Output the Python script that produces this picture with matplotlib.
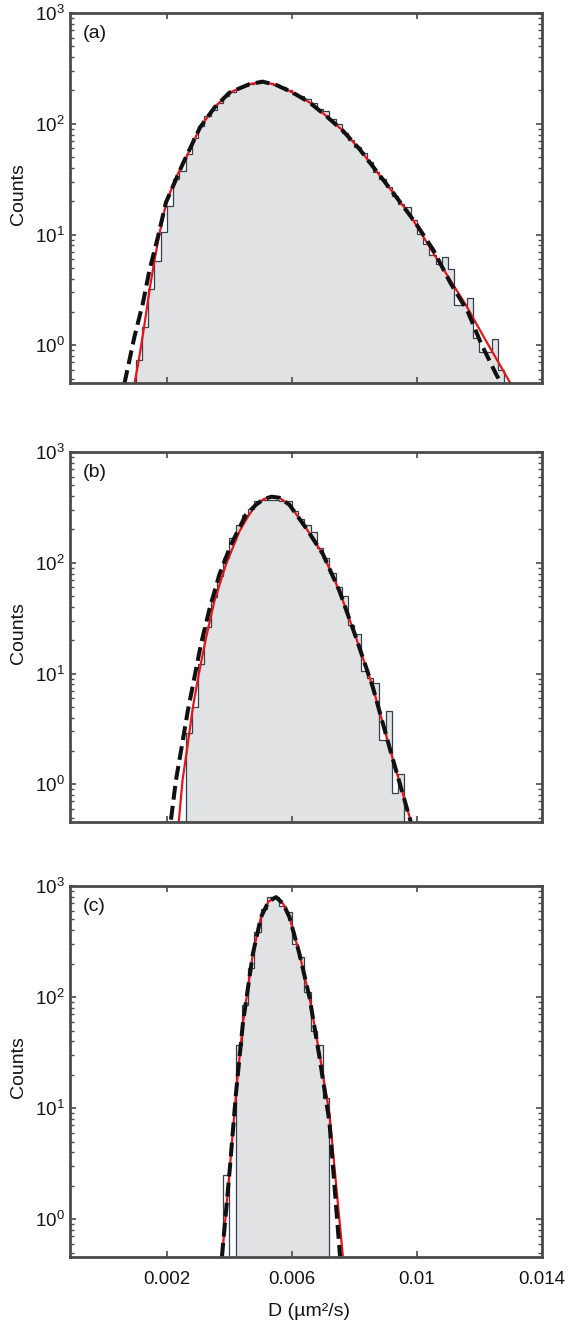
import numpy as np
import matplotlib
matplotlib.use("Agg")
import matplotlib.pyplot as plt
from matplotlib.ticker import LogLocator, FixedLocator, NullFormatter

plt.rcParams['font.family'] = ['Liberation Sans', 'DejaVu Sans']
plt.rcParams['mathtext.default'] = 'regular'
plt.rcParams['lines.scale_dashes'] = False

# ---------------- data ----------------
bin_width = 0.0002

a_start = 0.0010
a_counts = [0.73, 1.46, 3.2, 5.8, 10.5, 18.2, 31.6, 37.8, 53.3, 74, 95.5, 117, 132, 155,
            178, 195, 209, 219, 229, 234, 237, 232, 224, 214, 200, 186, 178, 166, 155,
            135, 130, 110, 100, 83, 71, 62, 55, 45, 37, 32, 27, 22.4, 19, 17.6, 13.4,
            10.1, 8.3, 6.5, 5.4, 6.3, 4.9, 2.3, 2.3, 2.7, 1.16, 0.87, 0.87, 1.15, 0.6]

b_start = 0.0026
b_counts = [2.9, 5.0, 12.3, 26.3, 49, 76, 110, 167, 219, 269, 309, 363, 372, 371, 371,
            358, 358, 295, 251, 221, 190, 135, 111, 81, 60, 50, 27.5, 22.6, 10.5, 9.1,
            8.3, 2.5, 4.6, 0.84, 1.25]

c_start = 0.0038
c_counts = [2.5, 0, 37.3, 85.5, 184, 384, 622, 793, 794, 661, 581, 302, 229, 111, 49,
            37.3, 12.4]

# fitted curves
red_a_D = [0.00096, 0.0011, 0.00127, 0.00144, 0.0016, 0.00176, 0.00197, 0.00224, 0.00267,
           0.00306, 0.00352, 0.0040, 0.00464, 0.00506, 0.0055, 0.00603, 0.00656, 0.00709,
           0.00763, 0.00816, 0.00869, 0.00923, 0.00976, 0.01051, 0.01157, 0.01216, 0.0130]
red_a_c = [0.45, 0.73, 1.46, 3.1, 5.8, 10.1, 18.9, 30.6, 53.3, 92.7, 140, 191, 228, 239,
           224, 191, 156, 118, 86.5, 59.2, 37.8, 24, 15.3, 6.9, 2.3, 1.16, 0.45]
blk_a_D = [0.00064, 0.00096, 0.00123, 0.00144, 0.00171, 0.00197, 0.0025, 0.00306, 0.00352,
           0.0040, 0.00464, 0.00506, 0.0055, 0.00603, 0.00656, 0.00709, 0.00763, 0.00816,
           0.00869, 0.00923, 0.00994, 0.01053, 0.01106, 0.01163, 0.01205, 0.01253, 0.0127]
blk_a_c = [0.45, 1.19, 2.39, 4.74, 9.46, 19.5, 43, 92.7, 140, 191, 228, 240, 224, 191, 156,
           118, 86.5, 59.2, 37.8, 24, 12.9, 7.2, 3.7, 2.0, 1.04, 0.55, 0.45]

red_b_D = [0.00238, 0.0025, 0.00267, 0.00283, 0.00302, 0.00325, 0.00352, 0.00389, 0.00432,
           0.0046, 0.00485, 0.0051, 0.00535, 0.0056, 0.00592, 0.00645, 0.00699, 0.00752,
           0.00805, 0.00859, 0.00912, 0.00981]
red_b_c = [0.457, 1.09, 2.32, 4.95, 9.9, 20.9, 45.2, 96.6, 192, 263, 334, 376, 397, 386, 334,
           206, 120, 55.6, 21.1, 7.5, 2.16, 0.457]
blk_b_D = [0.00213, 0.00229, 0.00249, 0.00267, 0.00288, 0.00309, 0.00336, 0.00368, 0.00405,
           0.00453, 0.00485, 0.0051, 0.00535, 0.0056, 0.00592, 0.00645, 0.00699, 0.00752,
           0.00805, 0.00859, 0.00912, 0.0098]
blk_b_c = [0.48, 1.09, 2.32, 4.63, 9.2, 18.4, 38, 78.5, 146, 272, 334, 376, 395, 386, 334,
           206, 120, 55.6, 21.1, 7.5, 2.16, 0.46]

red_c_D = [0.003765, 0.0040, 0.00421, 0.00443, 0.00475, 0.00501, 0.00525, 0.00549, 0.00572,
           0.00592, 0.00624, 0.00656, 0.00688, 0.0072, 0.00763]
red_c_c = [0.46, 2.59, 13.6, 57.7, 245, 525, 724, 794, 692, 525, 245, 100, 30.9, 8.95, 0.46]
blk_c_D = [0.00376, 0.0040, 0.00421, 0.00443, 0.00475, 0.00501, 0.00525, 0.00549, 0.00572,
           0.00592, 0.00624, 0.00656, 0.00688, 0.0072, 0.00754]
blk_c_c = [0.46, 2.59, 13.6, 57.7, 245, 525, 724, 794, 692, 525, 245, 100, 29, 7.5, 0.46]

panel_labels = ['(a)', '(b)', '(c)']
x_ticks = [0.002, 0.006, 0.01, 0.014]
x_ticklabels = ['0.002', '0.006', '0.01', '0.014']
y_ticks = [1, 10, 100, 1000]
y_ticklabels = ['$10^{0}$', '$10^{1}$', '$10^{2}$', '$10^{3}$']
xlabel = 'D (\u00b5m\u00b2/s)'
ylabel = 'Counts'

# ---------------- style ----------------
W, H = 585, 1324
fig = plt.figure(figsize=(W / 100, H / 100), dpi=100)

left, width = 70 / W, 472 / W
panel_px = [(13, 383), (452, 822), (886, 1257)]
ylim = (10 ** -0.34, 1000)
xlim = (-0.0011, 0.014)

fill_col = '#e1e2e4'
edge_col = '#34404f'
red_col = '#e3161d'
spine_col = '#4a4a4a'
txt_col = '#151515'
fs_tick = 13.5
fs_lab = 14

panels = [
    (a_start, a_counts, red_a_D, red_a_c, blk_a_D, blk_a_c),
    (b_start, b_counts, red_b_D, red_b_c, blk_b_D, blk_b_c),
    (c_start, c_counts, red_c_D, red_c_c, blk_c_D, blk_c_c),
]

floor = 1e-3
for i, ((top, bot), (start, counts, rD, rc, kD, kc)) in enumerate(zip(panel_px, panels)):
    ax = fig.add_axes([left, 1 - bot / H, width, (bot - top) / H])
    vals = np.asarray(counts, dtype=float)
    edges = start + bin_width * np.arange(len(vals) + 1)

    # contiguous non-empty run around the maximum gets the grey fill
    imax = int(np.argmax(vals))
    i0 = imax
    while i0 > 0 and vals[i0 - 1] > 0:
        i0 -= 1
    i1 = imax
    while i1 < len(vals) - 1 and vals[i1 + 1] > 0:
        i1 += 1
    ax.stairs(vals[i0:i1 + 1], edges[i0:i1 + 2], baseline=floor, fill=True,
              color=fill_col, lw=0, zorder=1)
    ax.stairs(np.where(vals > 0, vals, floor), edges, baseline=floor,
              color=edge_col, lw=0.9, zorder=2)

    ax.plot(rD, rc, color=red_col, lw=1.6, zorder=3, solid_capstyle='butt')
    ax.plot(kD, kc, color='#111111', lw=2.9, dashes=(10, 4.5), zorder=4,
            dash_capstyle='butt')

    ax.set_yscale('log')
    ax.set_ylim(*ylim)
    ax.set_xlim(*xlim)
    ax.yaxis.set_major_locator(FixedLocator(y_ticks))
    ax.set_yticklabels(y_ticklabels)
    ax.yaxis.set_minor_locator(LogLocator(base=10, subs=np.arange(2, 10)))
    ax.yaxis.set_minor_formatter(NullFormatter())
    ax.set_xticks(x_ticks)
    if i == 2:
        ax.set_xticklabels(x_ticklabels)
    else:
        ax.set_xticklabels([])

    for s in ax.spines.values():
        s.set_linewidth(2.0)
        s.set_color(spine_col)
        s.set_zorder(6)
    ax.tick_params(which='both', direction='in', top=True, right=True,
                   color=spine_col, labelsize=fs_tick, labelcolor=txt_col)
    ax.tick_params(which='major', length=4.5, width=1.2)
    ax.tick_params(which='minor', length=2.6, width=1.0)
    ax.tick_params(axis='y', pad=4)
    ax.tick_params(axis='x', pad=10)

    ax.text(0.026, 0.968, panel_labels[i], transform=ax.transAxes, ha='left',
            va='top', fontsize=fs_lab, color=txt_col)
    fig.text(18 / W, 1 - ((top + bot) / 2 - 4) / H, ylabel, rotation=90,
             ha='center', va='center', fontsize=fs_lab, color=txt_col)

fig.text(309 / W, 1 - 1312 / H, xlabel, ha='center', va='center', fontsize=fs_lab,
         color=txt_col)

fig.savefig('out.png', dpi=100)
